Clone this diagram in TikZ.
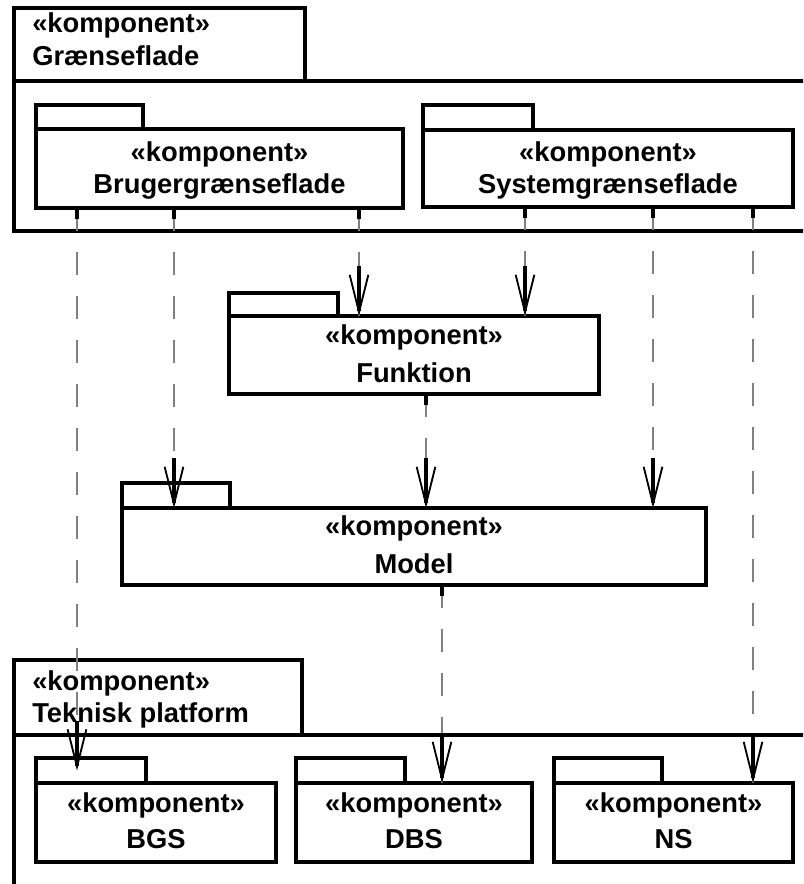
\documentclass[tikz,border=0pt]{standalone}
\usepackage{fontspec}
\setmainfont{Liberation Sans}
\usetikzlibrary{arrows.meta,calc,fit}

\newcommand\kompfont{\fontsize{20.5}{26}\selectfont\bfseries}

\tikzset{
  pkg/.style={draw, line width=3pt, inner sep=0pt, outer sep=0pt},
  tab/.style={draw, line width=3pt, inner sep=0pt, outer sep=0pt},
  kline/.style={anchor=base, font=\kompfont, inner sep=0pt},
  kleft/.style={anchor=base west, font=\kompfont, inner sep=0pt},
  dep/.style={draw=gray, line width=0.8pt, dash pattern=on 17pt off 16pt},
  stub/.style={line width=2.4pt},
  tip/.style={-{Straight Barb[length=28pt,width=14pt,line width=1.4pt]}}
}

% dependency: x position, source anchor, target anchor
\newcommand\kompdep[3]{%
  \draw[dep] (#1,0 |- #2) -- (#1,0 |- #3);
  \draw[stub] (#1,0 |- #2) -- ++(0,11);
  \draw[stub,tip] ($(#1,0 |- #3)+(0,-50)$) -- (#1,0 |- #3);
}

\begin{document}
\begin{tikzpicture}[x=0.75pt, y=-0.75pt]
  \useasboundingbox (0,0) rectangle (803,884);
  \clip (0,0) rectangle (803,884);

  % Graenseflade package
  \node[tab, fit={(14,8) (305,81)}] (gtab) {};
  \node[pkg, fit={(14,81) (840,231)}] (gbody) {};
  \node[kleft] (gk) at ($(gtab.north west)+(18,25)$) {«komponent»};
  \node[kleft] (gn) at ($(gtab.north west)+(18,58)$) {Grænseflade};

  \node[tab, fit={(36,105) (143,129)}] (brugertab) {};
  \node[pkg, fit={(36,129) (403,208)}] (bruger) {};
  \node[kline] (brugerk) at ($(bruger.center)+(0,-7)$) {«komponent»};
  \node[kline] (brugern) at ($(bruger.center)+(0,25)$) {Brugergrænseflade};

  \node[tab, fit={(423,105) (533,130)}] (systemtab) {};
  \node[pkg, fit={(423,130) (793,207)}] (system) {};
  \node[kline] (systemk) at ($(system.center)+(0,-7)$) {«komponent»};
  \node[kline] (systemn) at ($(system.center)+(0,25)$) {Systemgrænseflade};

  % Funktion and Model
  \node[tab, fit={(229,293) (338,316)}] (funktiontab) {};
  \node[pkg, fit={(229,316) (599,394)}] (funktion) {};
  \node[kline] (funktionk) at ($(funktion.center)+(0,-11)$) {«komponent»};
  \node[kline] (funktionn) at ($(funktion.center)+(0,27)$) {Funktion};

  \node[tab, fit={(122,483) (230,508)}] (modeltab) {};
  \node[pkg, fit={(122,508) (706,585)}] (model) {};
  \node[kline] (modelk) at ($(model.center)+(0,-11)$) {«komponent»};
  \node[kline] (modeln) at ($(model.center)+(0,27)$) {Model};

  % Teknisk platform package
  \node[tab, fit={(14,660) (302,735)}] (ttab) {};
  \node[pkg, fit={(14,735) (840,920)}] (tbody) {};
  \node[kleft] (tk) at ($(ttab.north west)+(18,30)$) {«komponent»};
  \node[kleft] (tn) at ($(ttab.north west)+(18,62)$) {Teknisk platform};

  \node[tab, fit={(36,758) (146,783)}] (bgstab) {};
  \node[pkg, fit={(36,783) (276,862)}] (bgs) {};
  \node[kline] (bgsk) at ($(bgs.center)+(0,-10)$) {«komponent»};
  \node[kline] (bgsn) at ($(bgs.center)+(0,26)$) {BGS};

  \node[tab, fit={(296,758) (405,783)}] (dbstab) {};
  \node[pkg, fit={(296,783) (532,862)}] (dbs) {};
  \node[kline] (dbsk) at ($(dbs.center)+(0,-10)$) {«komponent»};
  \node[kline] (dbsn) at ($(dbs.center)+(0,26)$) {DBS};

  \node[tab, fit={(554,758) (662,783)}] (nstab) {};
  \node[pkg, fit={(554,783) (793,862)}] (ns) {};
  \node[kline] (nsk) at ($(ns.center)+(0,-10)$) {«komponent»};
  \node[kline] (nsn) at ($(ns.center)+(0,26)$) {NS};

  % dependencies
  \kompdep{77}{bruger.south}{bgstab.center}
  \kompdep{174}{bruger.south}{model.north}
  \kompdep{359}{bruger.south}{funktion.north}
  \kompdep{525}{system.south}{funktion.north}
  \kompdep{653}{system.south}{model.north}
  \kompdep{753}{system.south}{ns.north}
  \kompdep{426}{funktion.south}{model.north}
  \kompdep{442}{model.south}{dbs.north}
\end{tikzpicture}
\end{document}
